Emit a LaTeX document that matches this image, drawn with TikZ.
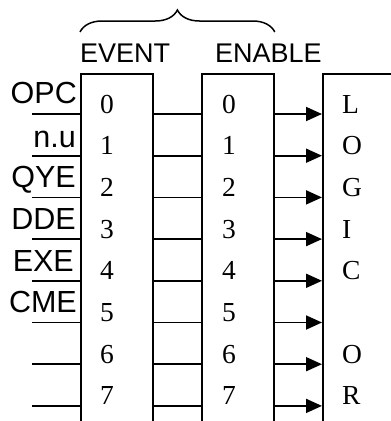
\documentclass[tikz,border=0pt]{standalone}
\usepackage{fontspec}
\setmainfont{Liberation Serif}
\setsansfont{Liberation Sans}
\usetikzlibrary{arrows.meta, decorations.pathreplacing, positioning}
\tikzstyle{reg}=[draw, rectangle, line width=1.8pt, anchor=north west, minimum height=400pt, inner sep=0pt]
\tikzstyle{bit}=[inner sep=0pt, anchor=base, font=\fontsize{27.5}{30}\selectfont]
\tikzstyle{sig}=[inner sep=0pt, anchor=base east, font=\sffamily\fontsize{30.5}{33}\selectfont]
\tikzstyle{head}=[inner sep=0pt, anchor=base west, font=\sffamily\fontsize{27}{30}\selectfont]
\tikzstyle{wire}=[line width=1.8pt]
\tikzstyle{feed}=[wire, -{Triangle[length=16pt,width=14pt]}]

\begin{document}
\begin{tikzpicture}[x=1pt, y=-1pt]
    \path[use as bounding box] (0,0) rectangle (391,421);
    \clip (0,0) rectangle (391,421);

    \node (event)[reg, minimum width=72pt] at (80,73) {};
    \node (enable)[reg, minimum width=72pt] at (201,73) {};
    \node (logic)[reg, minimum width=100pt] at (322,73) {};

    \node (evtxt)[head] at (80,62) {EVENT};
    \node (entxt)[head] at (215,62) {ENABLE};
    \draw[line width=1.5pt, decorate, decoration={brace, amplitude=22pt}]
        ([yshift=41pt]event.north west) -- ([yshift=41pt]enable.north east);

    \node (opc)[sig] at (77,103) {OPC};
    \node (nu)[sig] at (76,147) {n.u};
    \node (qye)[sig] at (76,187) {QYE};
    \node (dde)[sig] at (76,229) {DDE};
    \node (exe)[sig] at (74,271) {EXE};
    \node (cme)[sig] at (77,312) {CME};

    \coordinate (r0) at (32,114);
    \coordinate (r1) at (32,155.7);
    \coordinate (r2) at (32,197.4);
    \coordinate (r3) at (32,239.1);
    \coordinate (r4) at (32,280.8);
    \coordinate (r5) at (32,322.5);
    \coordinate (r6) at (32,364.2);
    \coordinate (r7) at (32,405.9);

    \node (ev0)[bit] at (107,113) {0};
    \node (ev1)[bit] at (107,154.7) {1};
    \node (ev2)[bit] at (107,196.4) {2};
    \node (ev3)[bit] at (107,238.1) {3};
    \node (ev4)[bit] at (107,279.8) {4};
    \node (ev5)[bit] at (107,321.5) {5};
    \node (ev6)[bit] at (107,363.2) {6};
    \node (ev7)[bit] at (107,404.9) {7};

    \node (en0)[bit] at (229,113) {0};
    \node (en1)[bit] at (229,154.7) {1};
    \node (en2)[bit] at (229,196.4) {2};
    \node (en3)[bit] at (229,238.1) {3};
    \node (en4)[bit] at (229,279.8) {4};
    \node (en5)[bit] at (229,321.5) {5};
    \node (en6)[bit] at (229,363.2) {6};
    \node (en7)[bit] at (229,404.9) {7};

    \node (lg0)[bit, anchor=base west] at (342,113) {L};
    \node (lg1)[bit, anchor=base west] at (342,154.7) {O};
    \node (lg2)[bit, anchor=base west] at (342,196.4) {G};
    \node (lg3)[bit, anchor=base west] at (342,238.1) {I};
    \node (lg4)[bit, anchor=base west] at (342,279.8) {C};
    % row 5 has no letter
    \node (lg6)[bit, anchor=base west] at (342,363.2) {O};
    \node (lg7)[bit, anchor=base west] at (342,404.9) {R};

    \draw[wire] (r0) -- (r0 -| event.west);
    \draw[wire] (r0 -| event.east) -- (r0 -| enable.west);
    \draw[feed] (r0 -| enable.east) -- (r0 -| logic.west);

    \draw[wire] (r1) -- (r1 -| event.west);
    \draw[wire] (r1 -| event.east) -- (r1 -| enable.west);
    \draw[feed] (r1 -| enable.east) -- (r1 -| logic.west);

    \draw[wire] (r2) -- (r2 -| event.west);
    \draw[wire] (r2 -| event.east) -- (r2 -| enable.west);
    \draw[feed] (r2 -| enable.east) -- (r2 -| logic.west);

    \draw[wire] (r3) -- (r3 -| event.west);
    \draw[wire] (r3 -| event.east) -- (r3 -| enable.west);
    \draw[feed] (r3 -| enable.east) -- (r3 -| logic.west);

    \draw[wire] (r4) -- (r4 -| event.west);
    \draw[wire] (r4 -| event.east) -- (r4 -| enable.west);
    \draw[feed] (r4 -| enable.east) -- (r4 -| logic.west);

    \draw[wire] (r5) -- (r5 -| event.west);
    \draw[wire] (r5 -| event.east) -- (r5 -| enable.west);
    \draw[feed] (r5 -| enable.east) -- (r5 -| logic.west);

    \draw[wire] (r6) -- (r6 -| event.west);
    \draw[wire] (r6 -| event.east) -- (r6 -| enable.west);
    \draw[feed] (r6 -| enable.east) -- (r6 -| logic.west);

    \draw[wire] (r7) -- (r7 -| event.west);
    \draw[wire] (r7 -| event.east) -- (r7 -| enable.west);
    \draw[feed] (r7 -| enable.east) -- (r7 -| logic.west);

\end{tikzpicture}
\end{document}
